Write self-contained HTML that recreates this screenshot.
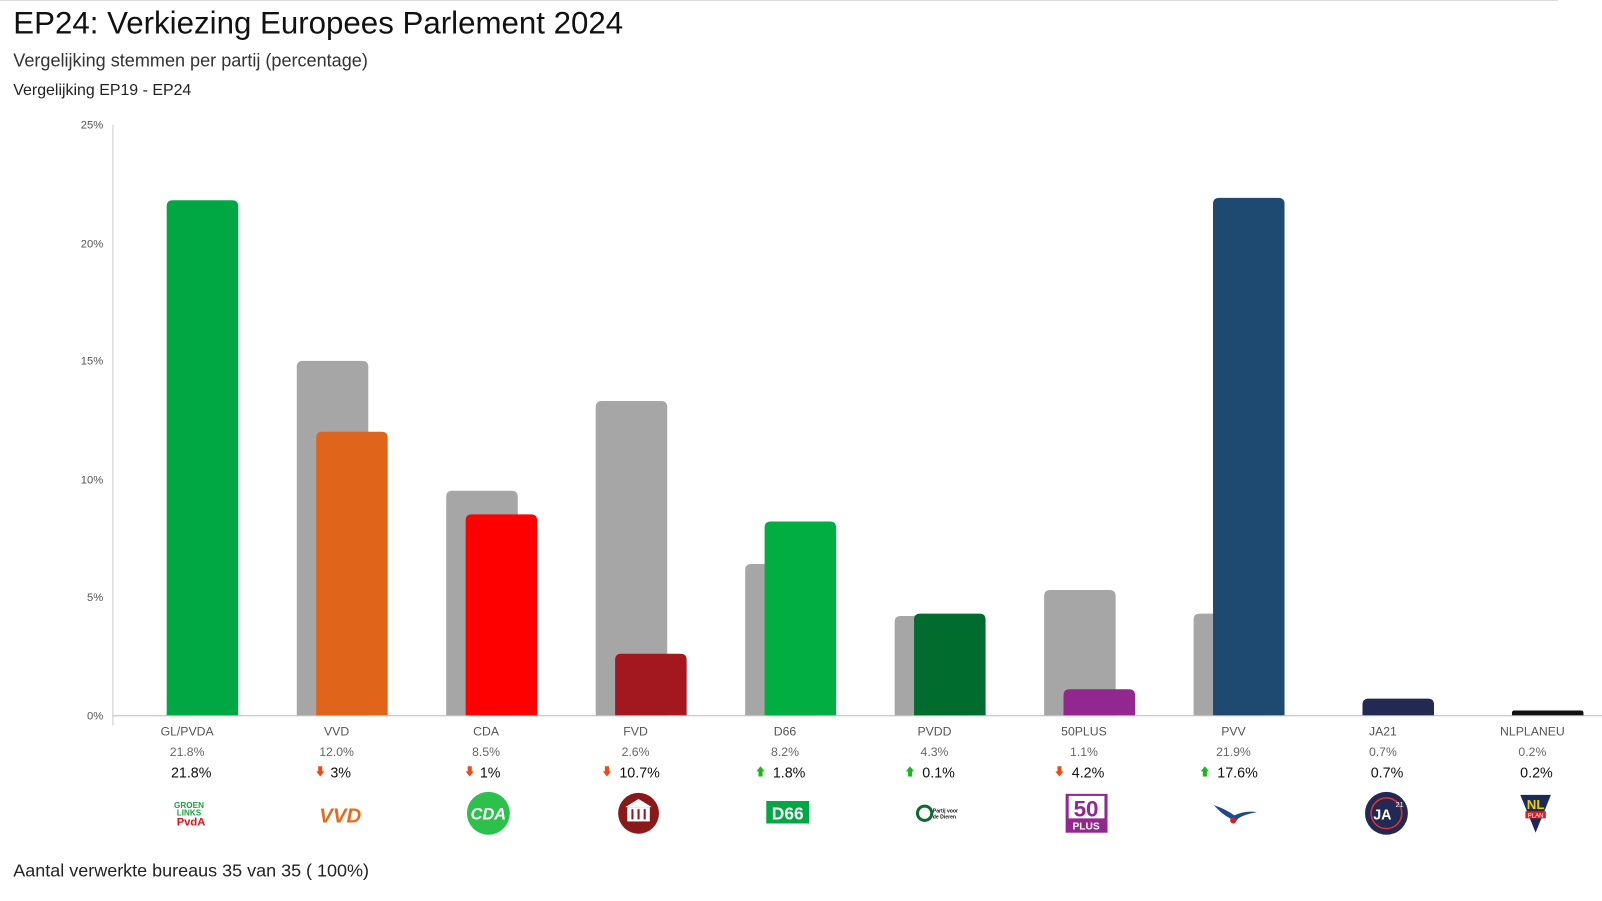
<!DOCTYPE html>
<html><head><meta charset="utf-8"><style>
html,body{margin:0;width:1602px;height:901px;background:#fff;overflow:hidden}
#w{position:absolute;left:0;top:0;width:1568px;height:882px;transform:scale(1.0217);transform-origin:0 0;font-family:"Liberation Sans",Arial,sans-serif}
.t{position:absolute;white-space:nowrap;color:#222}
</style></head><body><div id="w">
<div style="position:absolute;left:0;top:0;width:1525px;height:1px;background:#ddd"></div>
<div class="t" style="left:13px;top:6px;font-size:30.6px;color:#111">EP24: Verkiezing Europees Parlement 2024</div>
<div class="t" style="left:13px;top:49px;font-size:17.7px;color:#333">Vergelijking stemmen per partij (percentage)</div>
<div class="t" style="left:13px;top:80px;font-size:15.6px;color:#222">Vergelijking EP19 - EP24</div>
<svg width="1568" height="882" style="position:absolute;left:0;top:0" font-family="Liberation Sans,Arial,sans-serif">
<g font-size="11" fill="#555" text-anchor="end">
<text x="101" y="126">25%</text><text x="101" y="242">20%</text><text x="101" y="357">15%</text>
<text x="101" y="473">10%</text><text x="101" y="588">5%</text><text x="101" y="704">0%</text>
</g>
<line x1="110.5" y1="122" x2="110.5" y2="710" stroke="#ccc"/>
<line x1="110" y1="700.5" x2="1568" y2="700.5" stroke="#bbb"/>
<g id="bars"></g>
<g id="labels"></g>
</svg>
<div class="t" style="left:13px;top:842px;font-size:17.6px;color:#222">Aantal verwerkte bureaus 35 van 35 ( 100%)</div>
</div>
<script>
var P=[["GL/PVDA",21.8,0,"#00a843","21.8%",0],["VVD",12.0,15.0,"#e0651a","3%",-1],["CDA",8.5,9.5,"#ff0000","1%",-1],["FVD",2.6,13.3,"#a3181e","10.7%",-1],["D66",8.2,6.4,"#00ae41","1.8%",1],["PVDD",4.3,4.2,"#006d2f","0.1%",1],["50PLUS",1.1,5.3,"#92278f","4.2%",-1],["PVV",21.9,4.3,"#1e4a72","17.6%",1],["JA21",0.7,0,"#222a54","0.7%",0],["NLPLANEU",0.2,0,"#111","0.2%",0]];
var b="",l="",u=23.12;
function rb(x,v,c){var h=v*u;if(h<=0)return"";var r=Math.min(6,h/2);var y=700-h;return '<path d="M'+x+' 700V'+(y+r)+'Q'+x+' '+y+' '+(x+r)+' '+y+'H'+(x+70-r)+'Q'+(x+70)+' '+y+' '+(x+70)+' '+(y+r)+'V700Z" fill="'+c+'"/>';}
P.forEach(function(p,i){var c=110+146.3*(i+0.5);
b+=rb(c-39,p[2],"#a6a6a6");b+=rb(c-20,p[1],p[3]);
l+='<text x="'+c+'" y="720" font-size="12" fill="#555" text-anchor="middle">'+p[0]+'</text>';
l+='<text x="'+c+'" y="740" font-size="12" fill="#666" text-anchor="middle">'+p[1].toFixed(1)+'%</text>';
var tx=p[5]?c+4:c+4;
l+='<text x="'+tx+'" y="761" font-size="14" fill="#111" text-anchor="middle">'+p[4]+'</text>';
if(p[5]){var w=p[4].length*8/2+12;var ax=tx-w;var col=p[5]>0?"#1ab81a":"#f04a14";
if(p[5]>0)l+='<path d="M'+(ax-4)+' 755L'+ax+' 750L'+(ax+4)+' 755H'+(ax+2)+'V760H'+(ax-2)+'V755Z" fill="'+col+'"/>';
else l+='<path d="M'+(ax-2)+' 750H'+(ax+2)+'V755H'+(ax+4)+'L'+ax+' 760L'+(ax-4)+' 755H'+(ax-2)+'Z" fill="'+col+'"/>';}
});
var L='';
L+='<text x="185" y="791" font-size="8" font-weight="bold" fill="#1aa33a" text-anchor="middle">GROEN</text><text x="185" y="798" font-size="8" font-weight="bold" fill="#1aa33a" text-anchor="middle">LINKS</text><text x="187" y="808" font-size="11" font-weight="bold" fill="#e0101a" text-anchor="middle">PvdA</text>';
L+='<text x="333" y="805" font-size="20" font-weight="bold" fill="#e56d1a" text-anchor="middle" font-style="italic">VVD</text>';
L+='<circle cx="478" cy="796" r="21" fill="#2cc14b"/><text x="478" y="802" font-size="16" font-weight="bold" font-style="italic" fill="#fff" text-anchor="middle">CDA</text>';
L+='<circle cx="625" cy="796" r="20" fill="#8a1a1a"/><rect x="614" y="790" width="22" height="14" fill="#fff"/><path d="M612 790L625 782L638 790Z" fill="#fff"/><g stroke="#8a1a1a" stroke-width="2"><line x1="619" y1="792" x2="619" y2="802"/><line x1="625" y1="792" x2="625" y2="802"/><line x1="631" y1="792" x2="631" y2="802"/></g>';
L+='<rect x="750" y="784" width="42" height="22" fill="#00a843"/><text x="771" y="802" font-size="17" font-weight="bold" fill="#fff" text-anchor="middle">D66</text>';
L+='<circle cx="905" cy="796" r="7" fill="none" stroke="#0b6b2b" stroke-width="3"/><text x="913" y="795" font-size="5" font-weight="bold" fill="#111">Partij voor</text><text x="913" y="801" font-size="5" font-weight="bold" fill="#111">de Dieren</text>';
L+='<rect x="1043" y="777" width="41" height="38" fill="#92278f"/><rect x="1046" y="779" width="35" height="22" fill="#fff"/><text x="1063" y="799" font-size="22" font-weight="bold" fill="#92278f" text-anchor="middle">50</text><text x="1063" y="812" font-size="10" font-weight="bold" fill="#fff" text-anchor="middle">PLUS</text>';
L+='<path d="M1188 788Q1200 792 1208 798Q1220 793 1230 795Q1218 797 1212 801L1208 806L1204 801Q1196 797 1188 788Z" fill="#1e4a8a"/><circle cx="1207" cy="803" r="3" fill="#d02030"/>';
L+='<circle cx="1357" cy="796" r="21" fill="#222a54"/><circle cx="1357" cy="796" r="15" fill="none" stroke="#e03030" stroke-width="1.5"/><text x="1353" y="802" font-size="14" font-weight="bold" fill="#fff" text-anchor="middle">JA</text><text x="1366" y="790" font-size="7" fill="#fff">21</text>';
L+='<path d="M1488 778H1518L1503 815Z" fill="#1a2a5a"/><text x="1503" y="792" font-size="13" font-weight="bold" fill="#f0d000" text-anchor="middle">NL</text><rect x="1493" y="794" width="20" height="7" fill="#e02020"/><text x="1503" y="800" font-size="6" fill="#fff" text-anchor="middle">PLAN</text>';
document.getElementById("bars").innerHTML=b;
document.getElementById("labels").innerHTML=l+L;
</script>
</body></html>
